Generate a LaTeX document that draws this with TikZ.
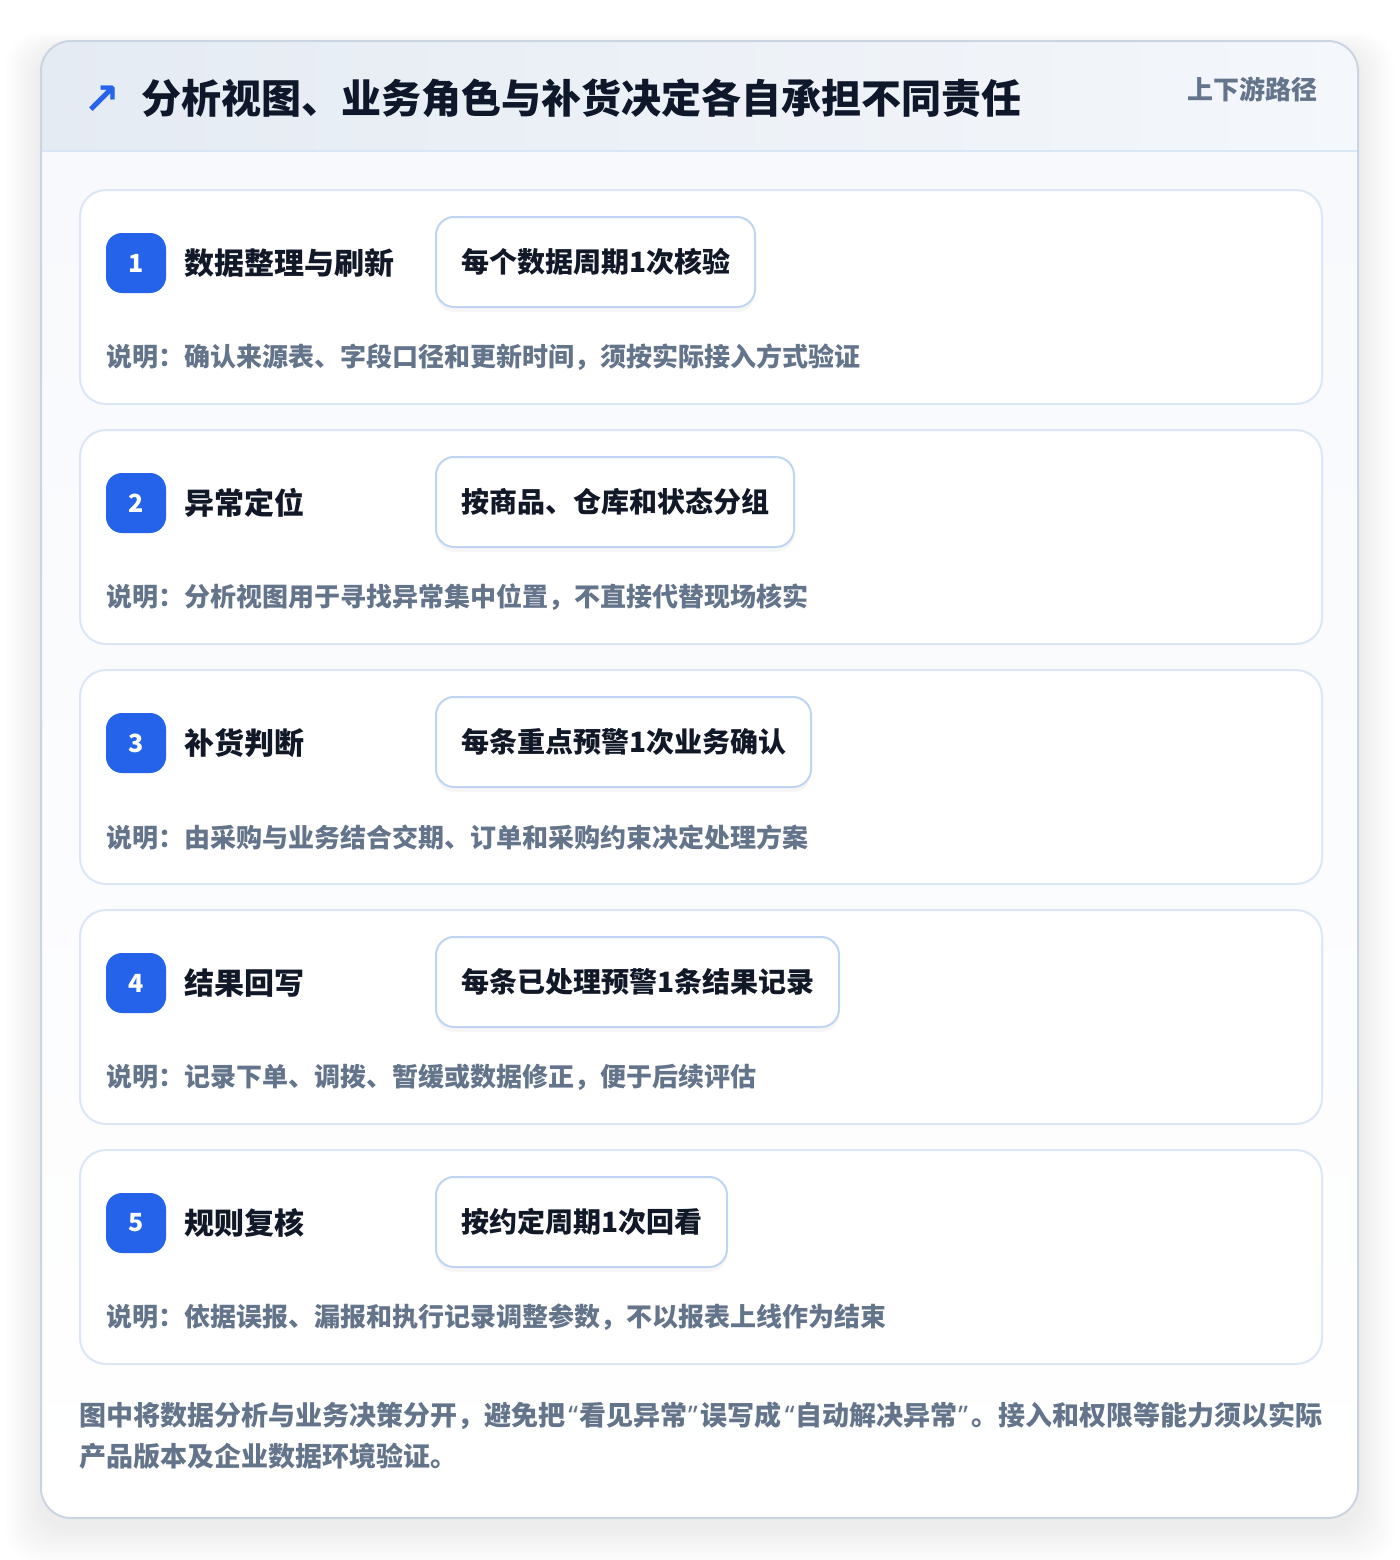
\documentclass[tikz,border=0pt]{standalone}
\usepackage{fontspec}
\setmainfont{Noto Sans CJK SC}
\newfontfamily\symfont{DejaVu Sans}
\newfontfamily\latinfont{Noto Sans}
\newcommand{\openq}{{\kern1.5pt\latinfont “\kern0.5pt}}
\newcommand{\closeq}{{\kern0.5pt\latinfont ”\kern1.5pt}}
\usetikzlibrary{shadows}
\definecolor{accent}{HTML}{2563EB}
\definecolor{ink}{HTML}{0F172A}
\definecolor{stepink}{HTML}{111827}
\definecolor{muted}{HTML}{64748B}
\definecolor{cardline}{HTML}{DBE7F6}
\definecolor{pillline}{HTML}{BFD5F2}
\definecolor{outerline}{HTML}{CBD5E1}
\definecolor{hdrL}{HTML}{E5EBF3}
\definecolor{hdrR}{HTML}{F4F7FB}
\definecolor{hdrline}{HTML}{D9E6F5}
\definecolor{bodytop}{HTML}{F7F9FC}
\tikzset{
  stepcard/.style={draw=cardline, fill=white, line width=1pt, rounded corners=13pt,
    minimum width=621pt, minimum height=107pt, inner sep=0pt},
  badge/.style={fill=accent, rounded corners=8pt, minimum size=30pt, inner sep=0pt,
    text=white, font=\bfseries\fontsize{12.5}{12.5}\selectfont},
  steptitle/.style={anchor=west, inner sep=0pt, text=stepink, font=\bfseries\fontsize{15}{18}\selectfont},
  pill/.style={anchor=west, draw=pillline, fill=white, line width=1pt, rounded corners=9pt,
    minimum height=45pt, inner xsep=12.5pt, inner ysep=0pt, text=stepink,
    font=\bfseries\fontsize{14}{17}\selectfont,
    drop shadow={opacity=0.035, shadow xshift=0pt, shadow yshift=-2.5pt, fill=black}},
  desc/.style={anchor=west, inner sep=0pt, text=muted, font=\bfseries\fontsize{13}{16}\selectfont},
}
\begin{document}
\begin{tikzpicture}[x=0.5pt, y=-0.5pt]
\useasboundingbox (0,0) rectangle (1400,1560);
\fill[white] (0,0) rectangle (1400,1560);
% soft shadow of the outer card
\foreach \k in {1,...,18}{
  \fill[black, opacity=0.0035, rounded corners=16pt]
    ({41-2*\k},{41-\k+10}) rectangle ({1358+2*\k},{1518+2*\k+10});
}
% outer card
\begin{scope}
  \clip[rounded corners=15pt] (41,41) rectangle (1358,1518);
  \fill[top color=bodytop, bottom color=white] (41,151) rectangle (1358,1518);
  \fill[left color=hdrL, right color=hdrR] (41,41) rectangle (1358,151);
  \draw[hdrline, line width=1pt] (41,151) -- (1358,151);
\end{scope}
\node[draw=outerline, line width=1pt, rounded corners=15pt, minimum width=658.5pt,
  minimum height=738.5pt, inner sep=0pt] (card) at (699.5,779.5) {};
% header
\node[text=accent, inner sep=0pt, font=\symfont\bfseries\fontsize{22}{22}\selectfont] (icon) at (102,100) {↗};
\node[anchor=west, inner sep=0pt, text=ink, font=\bfseries\fontsize{20}{24}\selectfont] (title) at (141,98)
  {分析视图、业务角色与补货决定各自承担不同责任};
\node[anchor=east, inner sep=0pt, text=muted, font=\bfseries\fontsize{13}{16}\selectfont] (path) at (1318,89)
  {上下游路径};
% steps
\foreach \t/\p/\d [count=\n from 1] in {
  数据整理与刷新/每个数据周期1次核验/说明：确认来源表、字段口径和更新时间，须按实际接入方式验证,
  异常定位/按商品、仓库和状态分组/说明：分析视图用于寻找异常集中位置，不直接代替现场核实,
  补货判断/每条重点预警1次业务确认/说明：由采购与业务结合交期、订单和采购约束决定处理方案,
  结果回写/每条已处理预警1条结果记录/说明：记录下单、调拨、暂缓或数据修正，便于后续评估,
  规则复核/按约定周期1次回看/说明：依据误报、漏报和执行记录调整参数，不以报表上线作为结束}{
  \pgfmathsetmacro\tp{189+240*(\n-1)}
  \node[stepcard, anchor=north west] (s\n) at (79,\tp) {};
  \node[badge] (b\n) at (136,\tp+74) {\n};
  \node[steptitle] (t\n) at (184,\tp+74) {\t};
  \node[pill] (p\n) at (435,\tp+73) {\p};
  \node[desc] (d\n) at (106,\tp+168) {\d};
}
% note
\node[anchor=west, inner sep=0pt, align=left, text=muted,
  font=\bfseries\fontsize{13.5}{20.5}\selectfont] (note) at (79,1436)
  {图中将数据分析与业务决策分开，避免把\openq 看见异常\closeq 误写成\openq 自动解决异常\closeq 。接入和权限等能力须以实际\\产品版本及企业数据环境验证。};
\end{tikzpicture}
\end{document}
